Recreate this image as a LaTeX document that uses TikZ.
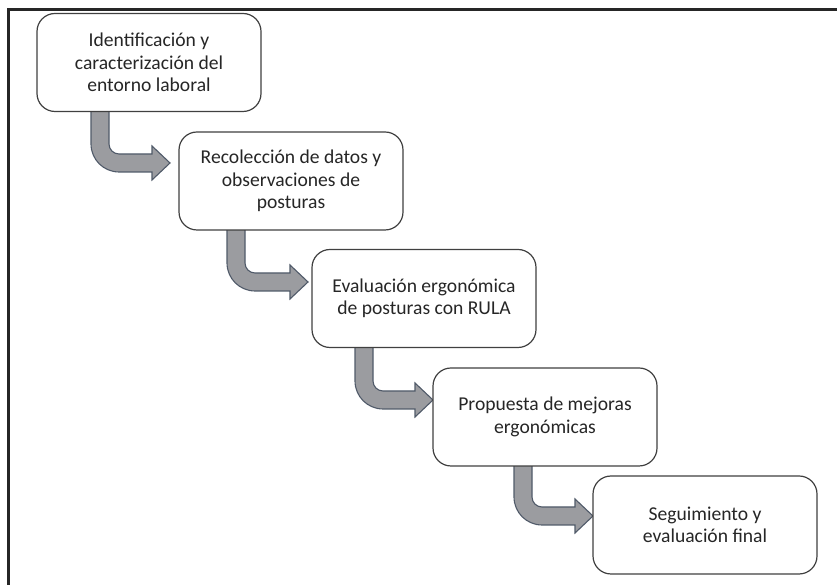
\documentclass[tikz,border=0pt]{standalone}
\usepackage{fontspec}
\setmainfont{Carlito}
\definecolor{boxline}{RGB}{64,64,64}
\definecolor{arrowfill}{RGB}{155,156,160}
\definecolor{arrowline}{RGB}{80,90,105}
\definecolor{txt}{RGB}{38,38,38}
\tikzset{
  stepbox/.style={draw=boxline, line width=1.2pt, fill=white, rounded corners=18pt,
    minimum width=224pt, minimum height=98pt, inner sep=0pt, align=center,
    text=txt, font=\fontsize{19.6pt}{22.3pt}\selectfont},
  bentarrow/.style={fill=arrowfill, draw=arrowline, line width=1.1pt, line join=miter},
  frameline/.style={draw=black!85, line width=2.2pt}
}
% #1 = L (left of shaft), #2 = top (y-down), #3 = c (y-down centre of horizontal part), #4 = head start x, #5 = tip x
\newcommand{\mybentarrow}[5]{%
  \path[bentarrow]
    (#1,{585-#2}) -- (#1,{585-(#3+9-28)})
    arc[start angle=180, end angle=270, radius=28pt]
    -- (#4,{585-(#3+9)}) -- (#4,{585-(#3+17)}) -- (#5,{585-#3})
    -- (#4,{585-(#3-17)}) -- (#4,{585-(#3-9)}) -- ({#1+18+10},{585-(#3-9)})
    arc[start angle=270, end angle=180, radius=10pt]
    -- ({#1+18},{585-#2}) -- cycle;}
\begin{document}
\begin{tikzpicture}[x=1pt,y=1pt]
\useasboundingbox (0,0) rectangle (837,585);
\coordinate (fb) at (8.5,0);
\coordinate (ftl) at (8.5,575.5);
\coordinate (fr) at (837,575.5);
\draw[frameline] (fb) -- (ftl) -- (fr);
% arrows (behind boxes)
\mybentarrow{91}{110}{163}{152}{170}
\mybentarrow{227}{228}{282}{290}{308}
\mybentarrow{355}{346}{400}{415}{433}
\mybentarrow{514}{465}{516}{575}{593}
% boxes
\node[stepbox] (b1) at (149,{585-62.5}) {Identificación y\\caracterización del\\entorno laboral};
\node[stepbox] (b2) at (291,{585-181}) {Recolección de datos y\\observaciones de\\posturas};
\node[stepbox] (b3) at (424,{585-298.5}) {Evaluación ergonómica\\de posturas con RULA};
\node[stepbox] (b4) at (545,{585-417}) {Propuesta de mejoras\\ergonómicas};
\node[stepbox] (b5) at (705,{585-525}) {Seguimiento y\\evaluación final};
\end{tikzpicture}
\end{document}
